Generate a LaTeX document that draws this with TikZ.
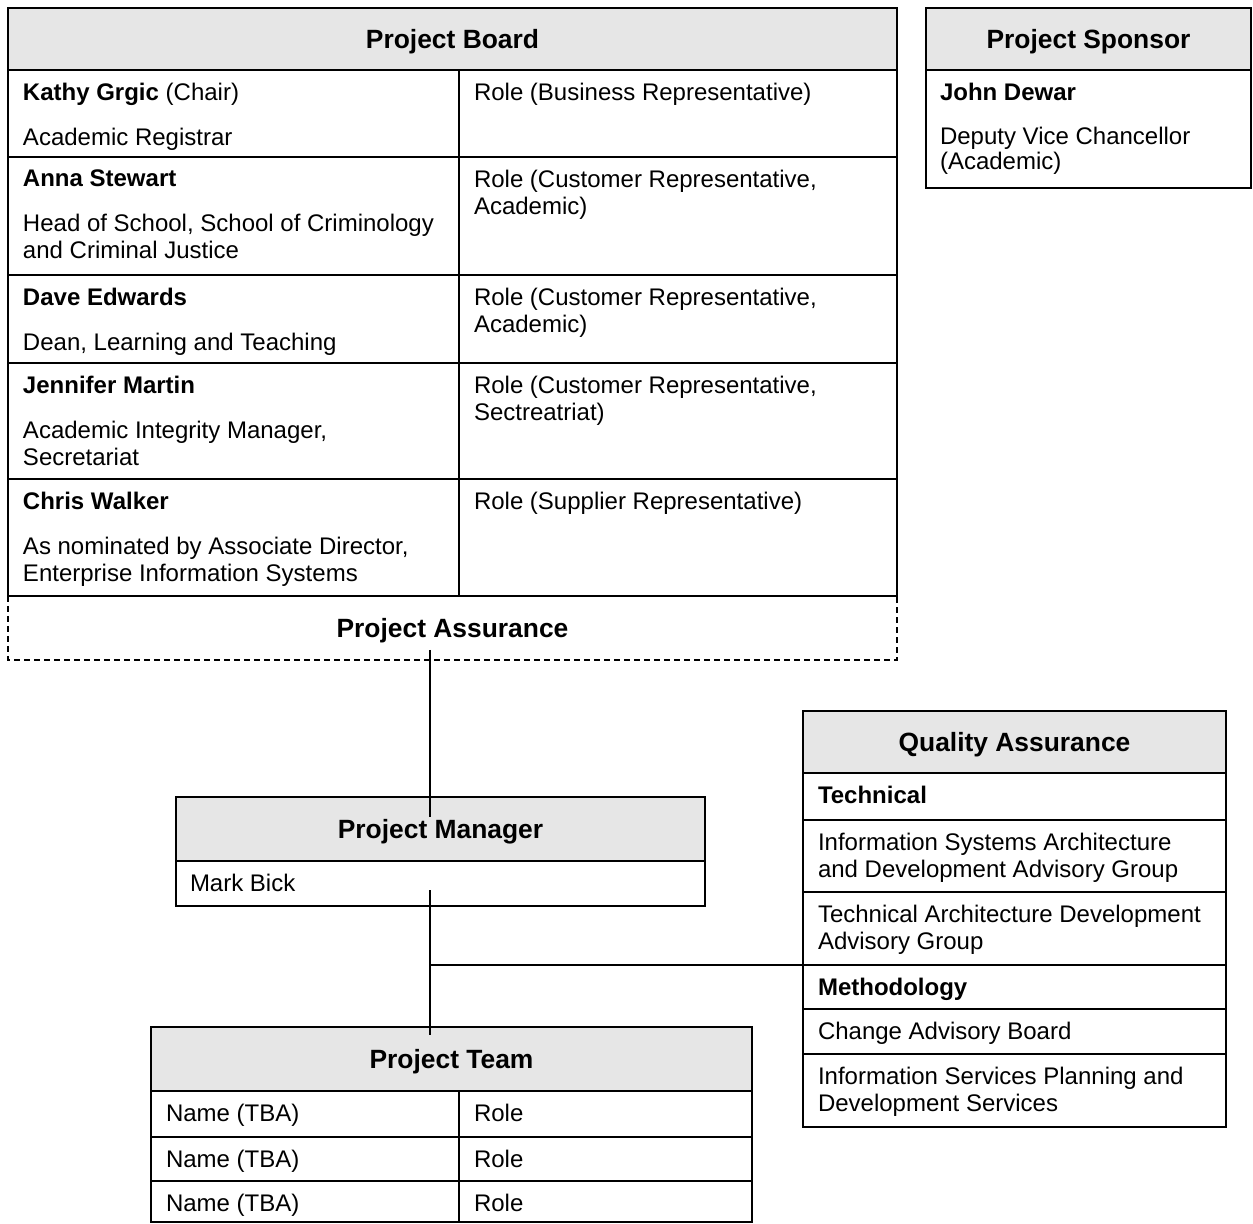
\documentclass[tikz,border=0pt]{standalone}
\usepackage{fontspec}
\setmainfont{Liberation Sans}
\usetikzlibrary{positioning}
\definecolor{headgray}{RGB}{230,230,230}

\begin{document}
\begin{tikzpicture}[x=0.5pt,y=-0.5pt]
  \tikzset{HeadStyle/.style = {
    shape          = rectangle,
    draw           = black,
    fill           = headgray,
    line width     = 1.2pt,
    anchor         = north west,
    inner sep      = 0pt,
    outer sep      = 0pt,
    minimum height = 31pt,
    text depth     = 0pt,
    font           = \bfseries\fontsize{13.2}{15}\selectfont
    }
  }
  \tikzset{CellStyle/.style = {
    shape          = rectangle,
    draw           = black,
    line width     = 1.2pt,
    anchor         = north west,
    inner sep      = 0pt,
    outer sep      = 0pt
    }
  }
  \tikzset{TextStyle/.style = {
    inner sep      = 0pt,
    outer sep      = 0pt,
    align          = left,
    font           = \fontsize{12}{13.5}\selectfont
    }
  }
  \tikzset{LinkStyle/.style = {
    draw           = black,
    line width     = 0.7pt
    }
  }
  \tikzset{AssureStyle/.style = {
    draw           = black,
    line width     = 1.2pt,
    dash pattern   = on 3pt off 2pt
    }
  }

  \useasboundingbox (0,0) rectangle (1253,1224);

  % project board
  \node[HeadStyle, minimum width=444.5pt] (Board) at (8,8) {Project Board};
  \node[CellStyle, minimum width=225.5pt, minimum height=43.5pt] (Kathy) at (Board.south west) {};
  \node[CellStyle, minimum width=219pt, minimum height=43.5pt] (KathyRole) at (Kathy.north east) {};
  \node[CellStyle, minimum width=225.5pt, minimum height=59pt] (Anna) at (Kathy.south west) {};
  \node[CellStyle, minimum width=219pt, minimum height=59pt] (AnnaRole) at (Anna.north east) {};
  \node[CellStyle, minimum width=225.5pt, minimum height=44pt] (Dave) at (Anna.south west) {};
  \node[CellStyle, minimum width=219pt, minimum height=44pt] (DaveRole) at (Dave.north east) {};
  \node[CellStyle, minimum width=225.5pt, minimum height=58pt] (Jennifer) at (Dave.south west) {};
  \node[CellStyle, minimum width=219pt, minimum height=58pt] (JenniferRole) at (Jennifer.north east) {};
  \node[CellStyle, minimum width=225.5pt, minimum height=58.5pt] (Chris) at (Jennifer.south west) {};
  \node[CellStyle, minimum width=219pt, minimum height=58.5pt] (ChrisRole) at (Chris.north east) {};

  \node[TextStyle, below right=6.4pt and 7.5pt of Kathy.north west] (KathyTxt)
    {\textbf{Kathy Grgic} (Chair)\\[9pt]Academic Registrar};
  \node[TextStyle, below right=6.4pt and 7.5pt of KathyRole.north west] (KathyRoleTxt)
    {Role (Business Representative)};
  \node[TextStyle, below right=6.4pt and 7.5pt of Anna.north west] (AnnaTxt)
    {\textbf{Anna Stewart}\\[9pt]Head of School, School of Criminology\\and Criminal Justice};
  \node[TextStyle, below right=6.4pt and 7.5pt of AnnaRole.north west] (AnnaRoleTxt)
    {Role (Customer Representative,\\Academic)};
  \node[TextStyle, below right=6.4pt and 7.5pt of Dave.north west] (DaveTxt)
    {\textbf{Dave Edwards}\\[9pt]Dean, Learning and Teaching};
  \node[TextStyle, below right=6.4pt and 7.5pt of DaveRole.north west] (DaveRoleTxt)
    {Role (Customer Representative,\\Academic)};
  \node[TextStyle, below right=6.4pt and 7.5pt of Jennifer.north west] (JenniferTxt)
    {\textbf{Jennifer Martin}\\[9pt]Academic Integrity Manager,\\Secretariat};
  \node[TextStyle, below right=6.4pt and 7.5pt of JenniferRole.north west] (JenniferRoleTxt)
    {Role (Customer Representative,\\Sectreatriat)};
  \node[TextStyle, below right=6.4pt and 7.5pt of Chris.north west] (ChrisTxt)
    {\textbf{Chris Walker}\\[9pt]As nominated by Associate Director,\\Enterprise Information Systems};
  \node[TextStyle, below right=6.4pt and 7.5pt of ChrisRole.north west] (ChrisRoleTxt)
    {Role (Supplier Representative)};

  \node[anchor=north west, inner sep=0pt, outer sep=0pt, minimum width=444.5pt, minimum height=32pt,
    text depth=0pt, font=\bfseries\fontsize{13.2}{15}\selectfont] (Assure) at (Chris.south west) {Project Assurance};
  \draw[AssureStyle] (Assure.north west) -- (Assure.south west) -- (Assure.south east) -- (Assure.north east);

  % project sponsor
  \node[HeadStyle, minimum width=162.5pt] (Sponsor) at (926,8) {Project Sponsor};
  \node[CellStyle, minimum width=162.5pt, minimum height=59pt] (John) at (Sponsor.south west) {};
  \node[TextStyle, font=\fontsize{12}{12.5}\selectfont, below right=6.4pt and 7pt of John.north west] (JohnTxt)
    {\textbf{John Dewar}\\[9.5pt]Deputy Vice Chancellor\\(Academic)};

  % quality assurance
  \node[HeadStyle, minimum width=211.5pt] (Quality) at (803,711) {Quality Assurance};
  \node[CellStyle, minimum width=211.5pt, minimum height=23.5pt] (Technical) at (Quality.south west) {};
  \node[CellStyle, minimum width=211.5pt, minimum height=36pt] (InfoArch) at (Technical.south west) {};
  \node[CellStyle, minimum width=211.5pt, minimum height=36.5pt] (TechArch) at (InfoArch.south west) {};
  \node[CellStyle, minimum width=211.5pt, minimum height=22pt] (Method) at (TechArch.south west) {};
  \node[CellStyle, minimum width=211.5pt, minimum height=22.5pt] (Change) at (Method.south west) {};
  \node[CellStyle, minimum width=211.5pt, minimum height=36.5pt] (InfoServ) at (Change.south west) {};

  \node[TextStyle, below right=6.4pt and 7.5pt of Technical.north west] (TechnicalTxt) {\textbf{Technical}};
  \node[TextStyle, below right=6.4pt and 7.5pt of InfoArch.north west] (InfoArchTxt)
    {Information Systems Architecture\\and Development Advisory Group};
  \node[TextStyle, below right=6.4pt and 7.5pt of TechArch.north west] (TechArchTxt)
    {Technical Architecture Development\\Advisory Group};
  \node[TextStyle, below right=6.4pt and 7.5pt of Method.north west] (MethodTxt) {\textbf{Methodology}};
  \node[TextStyle, below right=6.4pt and 7.5pt of Change.north west] (ChangeTxt) {Change Advisory Board};
  \node[TextStyle, below right=6.4pt and 7.5pt of InfoServ.north west] (InfoServTxt)
    {Information Services Planning and\\Development Services};

  % project manager
  \node[HeadStyle, minimum width=264.5pt, minimum height=32pt] (Manager) at (176,797) {Project Manager};
  \node[CellStyle, minimum width=264.5pt, minimum height=22.5pt] (Mark) at (Manager.south west) {};
  \node[TextStyle, below right=6.4pt and 7pt of Mark.north west] (MarkTxt) {Mark Bick};

  % project team
  \node[HeadStyle, minimum width=300.5pt, minimum height=32pt] (Team) at (151,1027) {Project Team};
  \node[CellStyle, minimum width=154pt, minimum height=23pt] (Name1) at (Team.south west) {};
  \node[CellStyle, minimum width=146.5pt, minimum height=23pt] (Role1) at (Name1.north east) {};
  \node[CellStyle, minimum width=154pt, minimum height=22pt] (Name2) at (Name1.south west) {};
  \node[CellStyle, minimum width=146.5pt, minimum height=22pt] (Role2) at (Name2.north east) {};
  \node[CellStyle, minimum width=154pt, minimum height=20.5pt] (Name3) at (Name2.south west) {};
  \node[CellStyle, minimum width=146.5pt, minimum height=20.5pt] (Role3) at (Name3.north east) {};

  \node[TextStyle, below right=6.4pt and 7.5pt of Name1.north west] (Name1Txt) {Name (TBA)};
  \node[TextStyle, below right=6.4pt and 7.5pt of Role1.north west] (Role1Txt) {Role};
  \node[TextStyle, below right=6.4pt and 7.5pt of Name2.north west] (Name2Txt) {Name (TBA)};
  \node[TextStyle, below right=6.4pt and 7.5pt of Role2.north west] (Role2Txt) {Role};
  \node[TextStyle, below right=6.4pt and 7.5pt of Name3.north west] (Name3Txt) {Name (TBA)};
  \node[TextStyle, below right=6.4pt and 7.5pt of Role3.north west] (Role3Txt) {Role};

  % connectors
  \coordinate (AssureOut) at ([shift={(-22.5,-10)}]Assure.south);
  \coordinate (ManagerIn) at ([shift={(-10.5,20)}]Manager.north);
  \coordinate (MarkOut) at ([shift={(-10.5,-16)}]Mark.south);
  \coordinate (TeamIn) at ([shift={(-21.5,8)}]Team.north);
  \draw[LinkStyle] (AssureOut) to (ManagerIn);
  \draw[LinkStyle] (MarkOut) to (TeamIn);
  \draw[LinkStyle] (MarkOut |- Method.north west) to (Method.north west);

\end{tikzpicture}
\end{document}
